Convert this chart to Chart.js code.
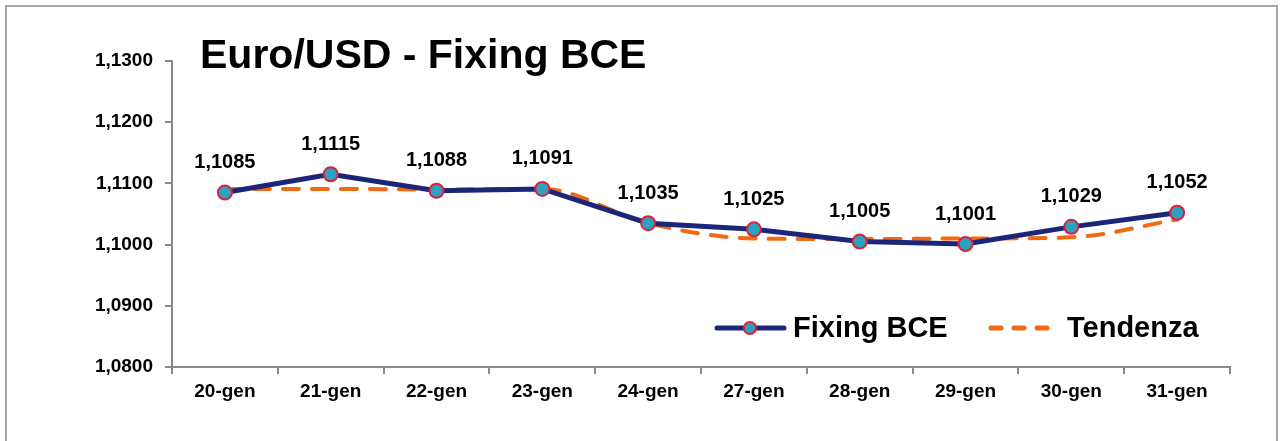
<!DOCTYPE html>
<html>
<head>
<meta charset="utf-8">
<script src="https://cdn.jsdelivr.net/npm/chart.js@4"></script>
<style>
  body { margin: 0; background: #fff; }
  #wrap { position: relative; width: 1283px; height: 441px; }
  #frame { position: absolute; left: 5px; top: 5px; width: 1273px; height: 440px; border: 2px solid #a6a6a6; box-sizing: border-box; }
</style>
</head>
<body>
<div id="wrap">
  <div id="frame"></div>
  <canvas id="chart" width="1283" height="441"></canvas>
</div>
<script>
const labels = ['20-gen', '21-gen', '22-gen', '23-gen', '24-gen', '27-gen', '28-gen', '29-gen', '30-gen', '31-gen'];
const fixingBCE = [1.1085, 1.1115, 1.1088, 1.1091, 1.1035, 1.1025, 1.1005, 1.1001, 1.1029, 1.1052];
const tendenza = [1.1091, 1.1091, 1.1090, 1.1091, 1.1035, 1.1010, 1.1009, 1.1010, 1.1012, 1.1041];
const yTicks = [1.08, 1.09, 1.10, 1.11, 1.12, 1.13];

const FONT = "Arial, 'Liberation Sans', sans-serif";
const fmt = v => v.toFixed(4).replace('.', ',');

// etichette sopra i punti, titolo e legenda dentro l'area del grafico
const extras = {
    id: 'extras',
    afterDatasetsDraw(chart) {
        const ctx = chart.ctx;
        const area = chart.chartArea;
        ctx.save();

        ctx.fillStyle = '#000';
        ctx.font = 'bold 20px ' + FONT;
        ctx.textAlign = 'center';
        ctx.textBaseline = 'middle';
        chart.getDatasetMeta(0).data.forEach((pt, i) => {
            ctx.fillText(fmt(fixingBCE[i]), pt.x, pt.y - 30);
        });

        ctx.font = 'bold 41px ' + FONT;
        ctx.textAlign = 'left';
        ctx.textBaseline = 'alphabetic';
        ctx.fillText('Euro/USD - Fixing BCE', area.left + 28, 68);

        // legenda
        const ly = 328;
        ctx.strokeStyle = '#1c2679';
        ctx.lineWidth = 5;
        ctx.lineCap = 'round';
        ctx.beginPath();
        ctx.moveTo(717, ly);
        ctx.lineTo(784, ly);
        ctx.stroke();
        ctx.beginPath();
        ctx.arc(750, ly, 6, 0, Math.PI * 2);
        ctx.fillStyle = '#2ba3c0';
        ctx.fill();
        ctx.lineWidth = 2;
        ctx.strokeStyle = '#e0203a';
        ctx.stroke();

        ctx.strokeStyle = '#ef6a12';
        ctx.lineWidth = 5;
        ctx.setLineDash([10, 13]);
        ctx.beginPath();
        ctx.moveTo(991, ly);
        ctx.lineTo(1048, ly);
        ctx.stroke();
        ctx.setLineDash([]);

        ctx.fillStyle = '#000';
        ctx.font = 'bold 29px ' + FONT;
        ctx.textBaseline = 'middle';
        ctx.fillText('Fixing BCE', 793, ly + 1);
        ctx.fillText('Tendenza', 1067, ly + 1);
        ctx.restore();
    }
};

const ctx = document.getElementById('chart').getContext('2d');
const myChart = new Chart(ctx, {
    type: 'line',
    data: {
        labels: labels,
        datasets: [{
            label: 'Fixing BCE',
            data: fixingBCE,
            borderColor: '#1c2679',
            borderWidth: 5,
            pointRadius: 7,
            pointBackgroundColor: '#2ba3c0',
            pointBorderColor: '#e0203a',
            pointBorderWidth: 2,
            tension: 0
        }, {
            label: 'Tendenza',
            data: tendenza,
            borderColor: '#ef6a12',
            borderWidth: 4,
            borderDash: [16, 13],
            borderCapStyle: 'round',
            pointRadius: 0,
            cubicInterpolationMode: 'monotone'
        }]
    },
    options: {
        responsive: false,
        animation: false,
        layout: { padding: { top: 61, right: 53, left: 0, bottom: 0 } },
        plugins: {
            legend: { display: false },
            title: { display: false },
            tooltip: { enabled: false }
        },
        scales: {
            x: {
                offset: true,
                grid: { display: true, drawOnChartArea: false, offset: true, tickLength: 7, color: '#8a8a8a', lineWidth: 2 },
                border: { color: '#8a8a8a', width: 2 },
                ticks: { color: '#000', font: { family: FONT, size: 19, weight: 'bold' }, padding: 6, maxRotation: 0 },
                afterFit: s => { s.height = 74; }
            },
            y: {
                min: 1.08,
                max: 1.13,
                afterBuildTicks: s => { s.ticks = yTicks.map(v => ({ value: v })); },
                grid: { display: true, drawOnChartArea: false, tickLength: 7, color: '#8a8a8a', lineWidth: 2 },
                border: { color: '#8a8a8a', width: 2 },
                ticks: { color: '#000', font: { family: FONT, size: 19, weight: 'bold' }, padding: 12, callback: v => fmt(v) },
                afterFit: s => { s.width = 172; }
            }
        }
    },
    plugins: [extras]
});
</script>
</body>
</html>
